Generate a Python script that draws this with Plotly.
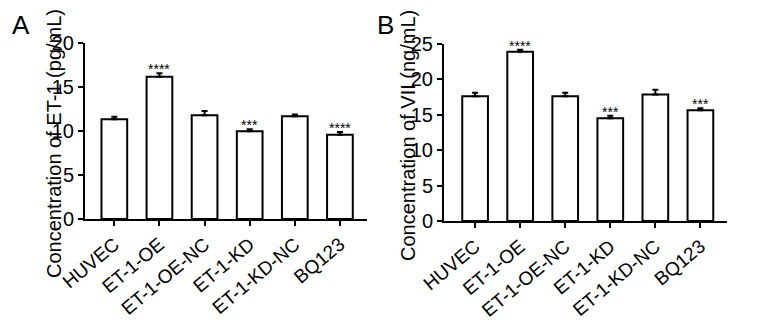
import plotly.graph_objects as go

categories = ["HUVEC", "ET-1-OE", "ET-1-OE-NC", "ET-1-KD", "ET-1-KD-NC", "BQ123"]
et1_values = [11.33, 16.17, 11.78, 9.96, 11.67, 9.58]
et1_errors = [0.30, 0.40, 0.48, 0.25, 0.20, 0.30]
et1_stars = ["", "****", "", "***", "", "****"]
vii_values = [17.56, 23.85, 17.56, 14.46, 17.80, 15.59]
vii_errors = [0.50, 0.28, 0.50, 0.37, 0.70, 0.28]
vii_stars = ["", "****", "", "***", "", "***"]
et1_ticks = [0, 5, 10, 15, 20]
vii_ticks = [0, 5, 10, 15, 20, 25]

FONT = "Arial, Liberation Sans, sans-serif"
PAGE_MARGIN = 8  # default body margin of the html page
W, H = 762 - 2 * PAGE_MARGIN, 334 - 2 * PAGE_MARGIN

def px_x(p):
    return (p - PAGE_MARGIN) / W

def px_y(p):
    return (H - (p - PAGE_MARGIN)) / H

fig = go.Figure()

def add_panel(vals, errs, xa, ya):
    fig.add_trace(go.Bar(
        x=categories, y=vals, xaxis=xa, yaxis=ya, width=0.57,
        marker=dict(color="white", line=dict(color="black", width=2)),
        error_y=dict(type="data", symmetric=False, array=errs,
                     arrayminus=[0] * len(errs), color="black",
                     thickness=2, width=3),
        showlegend=False,
    ))

add_panel(et1_values, et1_errors, "x", "y")
add_panel(vii_values, vii_errors, "x2", "y2")

axis_common = dict(showline=True, linecolor="black", linewidth=2,
                   ticks="outside", ticklen=5, tickwidth=2, tickcolor="black",
                   showgrid=False, zeroline=False, automargin=False,
                   tickfont=dict(family=FONT, size=20, color="black"))
xfont = dict(family=FONT, size=19, color="black")

fig.update_layout(
    template="none",
    width=W, height=H, margin=dict(l=0, r=0, t=0, b=0, autoexpand=False),
    paper_bgcolor="white", plot_bgcolor="white",
    xaxis=dict(domain=[px_x(85), px_x(367)], range=[-0.65, 5.6],
               tickangle=-40, anchor="y", **{**axis_common, "tickfont": xfont}),
    yaxis=dict(domain=[px_y(219), px_y(43)], range=[0, 20],
               tickvals=et1_ticks, anchor="x", **axis_common),
    xaxis2=dict(domain=[px_x(444), px_x(727)], range=[-0.69, 5.59],
                tickangle=-40, anchor="y2", **{**axis_common, "tickfont": xfont}),
    yaxis2=dict(domain=[px_y(221), px_y(43.5)], range=[0, 25],
                tickvals=vii_ticks, anchor="x2", **axis_common),
)

annotations = []
for c, v, e, s in zip(categories, et1_values, et1_errors, et1_stars):
    if s:
        annotations.append(dict(x=c, y=v + e, xref="x", yref="y", text=s,
                                showarrow=False, yanchor="bottom", yshift=-6,
                                font=dict(family=FONT, size=14, color="black")))
for c, v, e, s in zip(categories, vii_values, vii_errors, vii_stars):
    if s:
        annotations.append(dict(x=c, y=v + e, xref="x2", yref="y2", text=s,
                                showarrow=False, yanchor="bottom", yshift=-6,
                                font=dict(family=FONT, size=14, color="black")))

annotations.append(dict(x=px_x(54), y=px_y(144), xref="paper", yref="paper",
                        text="Concentration of ET-1 (pg/mL)", textangle=-90,
                        showarrow=False, xanchor="center", yanchor="middle",
                        font=dict(family=FONT, size=20, color="black")))
annotations.append(dict(x=px_x(408), y=px_y(136), xref="paper", yref="paper",
                        text="Concentration of VII (ng/mL)", textangle=-90,
                        showarrow=False, xanchor="center", yanchor="middle",
                        font=dict(family=FONT, size=20, color="black")))
annotations.append(dict(x=px_x(21), y=1, xref="paper", yref="paper",
                        text="A", showarrow=False, xanchor="center", yanchor="top",
                        font=dict(family=FONT, size=26, color="black")))
annotations.append(dict(x=px_x(385), y=1, xref="paper", yref="paper",
                        text="B", showarrow=False, xanchor="center", yanchor="top",
                        font=dict(family=FONT, size=26, color="black")))

fig.update_layout(annotations=annotations)
fig.write_html("out.html")
